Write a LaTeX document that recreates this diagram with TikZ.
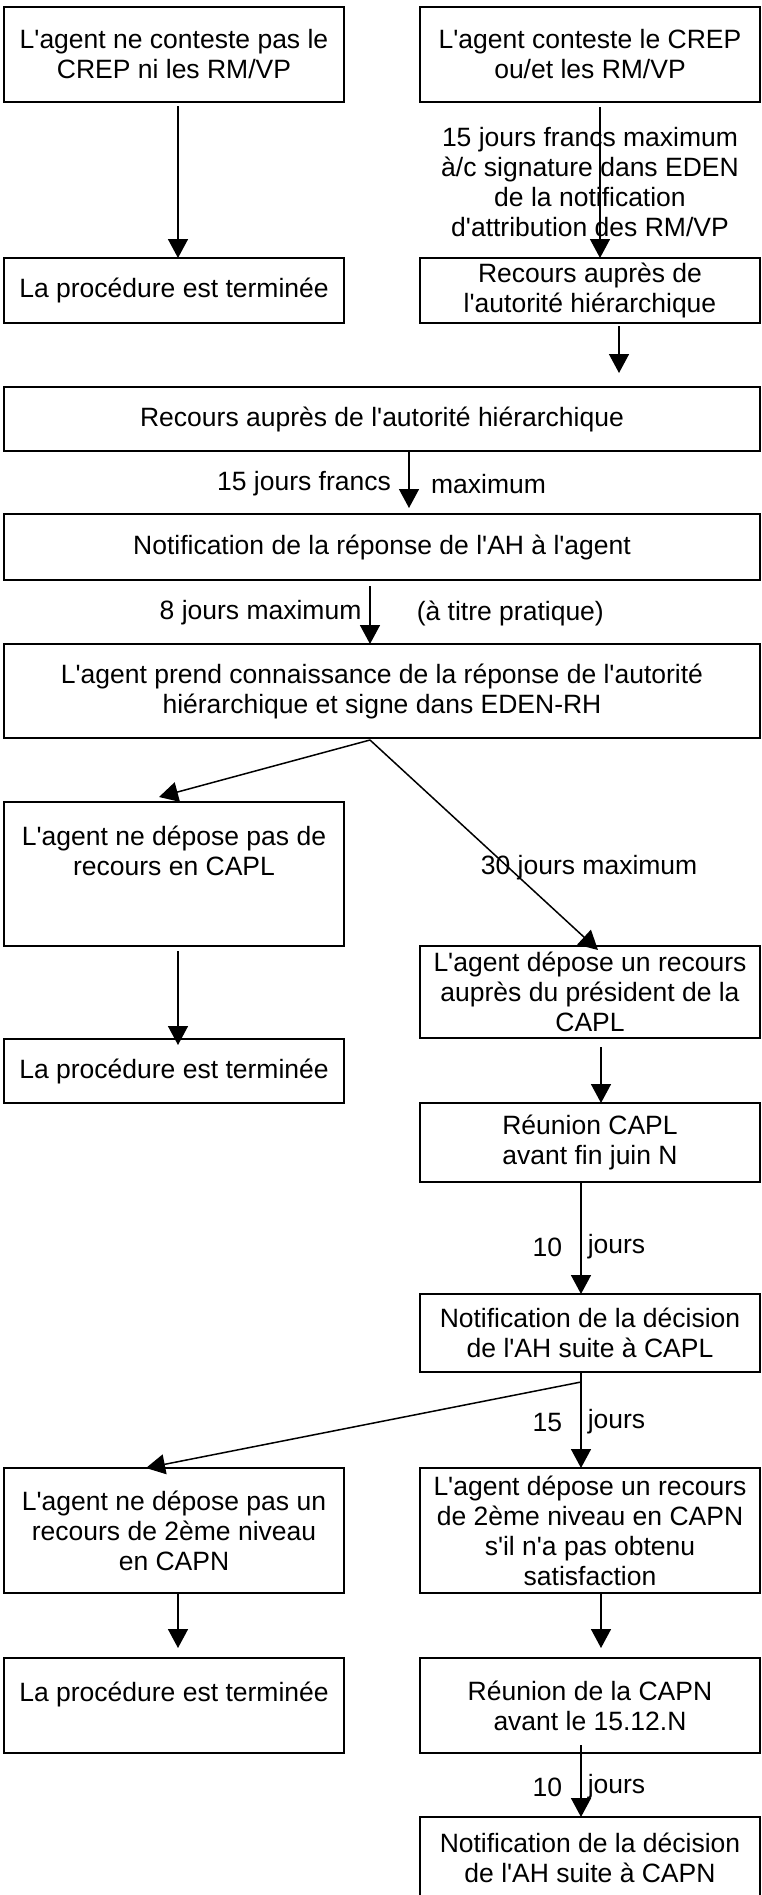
\documentclass[tikz,border=0pt]{standalone}
\usepackage{fontspec}
\setmainfont{Liberation Sans}[Ligatures=TeXOff]
\usetikzlibrary{arrows.meta,positioning}
\tikzset{box/.style={draw,line width=2pt,minimum width=340pt,inner sep=2pt,outer sep=0pt,align=center},
wide box/.style={box,minimum width=756pt},
}

\begin{document}
\begin{tikzpicture}[->,>={Triangle[length=19pt,width=20pt]},x=1pt,y=-1pt,
line width=1.5pt,font=\fontsize{26.5}{30}\selectfont]

\useasboundingbox (0,0) rectangle (761,1895);

\node[box,minimum height=95pt] (a) at (174,54.5) {L'agent ne conteste pas le\\CREP ni les RM/VP};
\node[box,minimum height=95pt] (b) [right=76pt of a] {L'agent conteste le CREP\\ou/et les RM/VP};
\node[box,minimum height=65pt] (c) [below=156pt of a] {La procédure est terminée};
\node[box,minimum height=65pt] (d) [below=156pt of b] {Recours auprès de\\l'autorité hiérarchique};
\node[wide box,minimum height=64pt] (e) at (382,419) {Recours auprès de l'autorité hiérarchique};
\node[wide box,minimum height=66pt] (f) [below=63pt of e] {Notification de la réponse de l'AH à l'agent};
\node[wide box,minimum height=94pt] (g) [below=64pt of f] {L'agent prend connaissance de la réponse de l'autorité\\hiérarchique et signe dans EDEN-RH};
\node[box,minimum height=144pt,text height=50pt,text depth=48pt] (h) at (174,874) {L'agent ne dépose pas de\\recours en CAPL};
\node[box,minimum height=92pt] (i) at (590,992) {L'agent dépose un recours\\auprès du président de la\\CAPL};
\node[box,minimum height=64pt] (j) [below=93pt of h] {La procédure est terminée};
\node[box,minimum height=79pt] (k) [below=65pt of i] {Réunion CAPL\\avant fin juin N};
\node[box,minimum height=78pt] (l) [below=112pt of k] {Notification de la décision\\de l'AH suite à CAPL};
\node[box,minimum height=125pt] (m) at (174,1530.5) {L'agent ne dépose pas un\\recours de 2ème niveau\\en CAPN};
\node[box,minimum height=125pt] (n) [below=96pt of l] {L'agent dépose un recours\\de 2ème niveau en CAPN\\s'il n'a pas obtenu\\satisfaction};
\node[box,minimum height=95pt,text height=19pt,text depth=28pt] (o) [below=65pt of m] {La procédure est terminée};
\node[box,minimum height=95pt] (p) [below=65pt of n] {Réunion de la CAPN\\avant le 15.12.N};
\node[box,minimum height=82pt] (q) [below=64pt of p] {Notification de la décision\\de l'AH suite à CAPN};

\path
([xshift=4pt,yshift=-4pt]a.south) edge ([xshift=4pt]c.north)
([xshift=10pt,yshift=-5pt]b.south) edge node[xshift=-10pt,align=center] {15 jours francs maximum\\à/c signature dans EDEN\\de la notification\\d'attribution des RM/VP} ([xshift=10pt]d.north)
([xshift=29pt,yshift=-3pt]d.south) edge ([xshift=237pt,yshift=14pt]e.north)
([xshift=27pt]e.south) edge node[anchor=east,xshift=-14pt,yshift=-4.5pt] {15 jours francs}
 node[anchor=west,xshift=18pt,yshift=-4.5pt] {maximum} ([xshift=27pt,yshift=6pt]f.north)
([xshift=-12pt,yshift=-6pt]f.south) edge node[anchor=east,xshift=-4.5pt,yshift=2pt] {8 jours maximum}
 node[anchor=west,xshift=42.7pt,yshift=2pt] {(à titre pratique)} ([xshift=-12pt]g.north)
([xshift=-12pt,yshift=-2pt]g.south) edge ([xshift=-15pt,yshift=5pt]h.north)
([xshift=-12pt,yshift=-2pt]g.south) edge node[pos=0.61,xshift=80pt] {30 jours maximum} ([xshift=8pt,yshift=-4pt]i.north)
([xshift=4pt,yshift=-5pt]h.south) edge ([xshift=4pt,yshift=-6pt]j.north)
([xshift=11pt,yshift=-9pt]i.south) edge ([xshift=11pt]k.north)
([xshift=-9pt]k.south) edge node[anchor=east,xshift=-14.7pt,yshift=-9pt] {10}
 node[anchor=west,xshift=2.7pt,yshift=-9pt] {jours} ([xshift=-9pt]l.north)
([xshift=-9pt]l.south) edge node[anchor=east,xshift=-14.7pt,yshift=-2pt] {15}
 node[anchor=west,xshift=2.7pt,yshift=-2pt] {jours} ([xshift=-9pt]n.north)
([xshift=-9pt,yshift=-10pt]l.south) edge ([xshift=-28pt]m.north)
([xshift=4pt]m.south) edge ([xshift=4pt,yshift=10pt]o.north)
([xshift=11pt]n.south) edge ([xshift=11pt,yshift=10pt]p.north)
([xshift=-9pt,yshift=8pt]p.south) edge node[anchor=east,xshift=-14.7pt,yshift=-6pt] {10}
 node[anchor=west,xshift=2.7pt,yshift=-6pt] {jours} ([xshift=-9pt]q.north)
;
\end{tikzpicture}
\end{document}
